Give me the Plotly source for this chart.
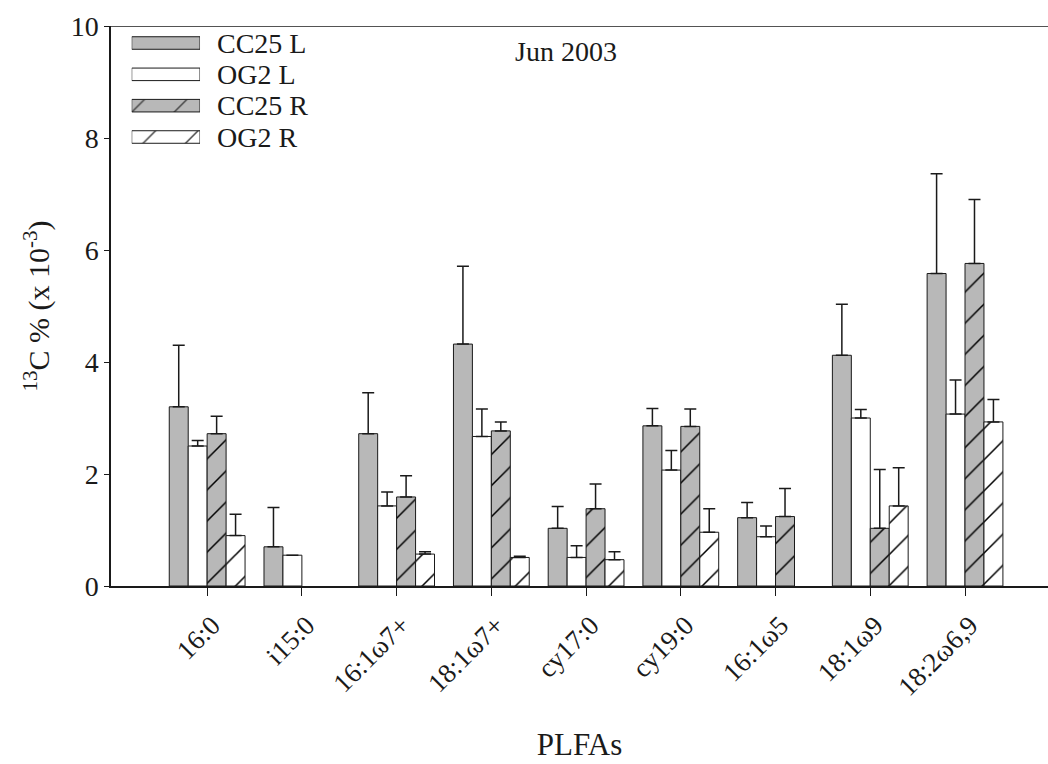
import plotly.graph_objects as go

# PLFA categories along the x axis
categories = ["16:0", "i15:0", "16:1ω7+", "18:1ω7+", "cy17:0",
              "cy19:0", "16:1ω5", "18:1ω9", "18:2ω6,9"]

# 13C enrichment (x 10^-3) and upper standard errors per treatment
cc25_l = [3.20, 0.70, 2.72, 4.32, 1.03, 2.86, 1.22, 4.12, 5.58]
cc25_l_err = [1.10, 0.70, 0.73, 1.39, 0.39, 0.31, 0.27, 0.91, 1.78]

og2_l = [2.50, 0.55, 1.43, 2.67, 0.51, 2.07, 0.88, 3.00, 3.07]
og2_l_err = [0.10, 0.00, 0.25, 0.49, 0.21, 0.35, 0.19, 0.15, 0.61]

cc25_r = [2.72, None, 1.59, 2.77, 1.38, 2.85, 1.24, 1.03, 5.76]
cc25_r_err = [0.31, 0.00, 0.38, 0.16, 0.44, 0.31, 0.50, 1.05, 1.14]

og2_r = [0.90, None, 0.57, 0.51, 0.47, 0.96, None, 1.43, 2.93]
og2_r_err = [0.38, 0.00, 0.04, 0.02, 0.14, 0.42, 0.00, 0.68, 0.40]

series_names = ["CC25 L", "OG2 L", "CC25 R", "OG2 R"]
y_ticks = [0, 2, 4, 6, 8, 10]

FONT = "Liberation Serif"
INK = "#1a1a1a"
GRAY = "#b8b8b8"
HATCH = 22

fills = [GRAY, "white", GRAY, "white"]
shapes_ = ["", "", "/", "/"]

fig = go.Figure()

series = [(cc25_l, cc25_l_err), (og2_l, og2_l_err), (cc25_r, cc25_r_err), (og2_r, og2_r_err)]
for name, (vals, errs), fill, shp in zip(series_names, series, fills, shapes_):
    fig.add_trace(go.Bar(
        x=categories, y=vals, name=name, showlegend=False,
        marker=dict(color=fill, line=dict(color=INK, width=1),
                    pattern=dict(shape=shp, bgcolor=fill, fgcolor="black",
                                 fgopacity=1, size=HATCH, solidity=0.07)),
        error_y=dict(type="data", array=errs, arrayminus=[0] * len(errs),
                     symmetric=False, color=INK, thickness=1.5, width=6),
    ))

# Inset key: one horizontal swatch per treatment with its label
fig.add_trace(go.Bar(
    x=[1, 1, 1, 1], y=series_names, orientation="h", width=0.4,
    xaxis="x2", yaxis="y2", showlegend=False, hoverinfo="skip",
    marker=dict(color=fills, line=dict(color=INK, width=1),
                pattern=dict(shape=shapes_, bgcolor=fills, fgcolor="black",
                             fgopacity=1, size=30, solidity=0.05)),
))

fig.update_layout(
    width=1048, height=764,
    margin=dict(l=111, r=0, t=26, b=178),
    paper_bgcolor="white", plot_bgcolor="white",
    barmode="group", bargap=0.2, bargroupgap=0,
    font=dict(family=FONT, size=28, color=INK),
    xaxis=dict(
        type="category", range=[-1.015, 8.876],
        showline=True, linecolor=INK, linewidth=1.5,
        ticks="outside", ticklen=8, tickwidth=1.2, tickcolor=INK,
        tickangle=-45, tickfont=dict(size=27),
        ticklabelshift=5, ticklabelstandoff=3,
        showgrid=False, zeroline=False,
        title=dict(text="PLFAs", font=dict(size=31), standoff=32),
    ),
    yaxis=dict(
        range=[0, 10], tickvals=y_ticks,
        showline=True, linecolor=INK, linewidth=1.5,
        ticks="outside", ticklen=5, tickwidth=1.2, tickcolor=INK,
        tickfont=dict(size=28),
        showgrid=False, zeroline=False,
        title=dict(text="<sup>13</sup>C % (x 10<sup>-3</sup>)",
                   font=dict(size=30), standoff=12),
    ),
    xaxis2=dict(domain=[0.0221, 0.0950], range=[0, 1], anchor="y2",
                visible=False, showticklabels=False, fixedrange=True),
    yaxis2=dict(domain=[0.7738, 0.9976], anchor="x2", type="category",
                autorange="reversed", side="right",
                tickmode="array", tickvals=series_names, ticktext=series_names,
                showline=False, showgrid=False, zeroline=False, ticks="",
                ticklabelstandoff=16, tickfont=dict(size=28)),
    shapes=[dict(type="line", xref="paper", x0=0, x1=1, yref="y", y0=10, y1=10,
                 line=dict(color=INK, width=1.5))],
    annotations=[dict(text="Jun 2003", xref="paper", yref="paper",
                      x=0.4856, y=0.955, xanchor="center", yanchor="middle",
                      showarrow=False, font=dict(size=28))],
)

fig.write_html("out.html")
